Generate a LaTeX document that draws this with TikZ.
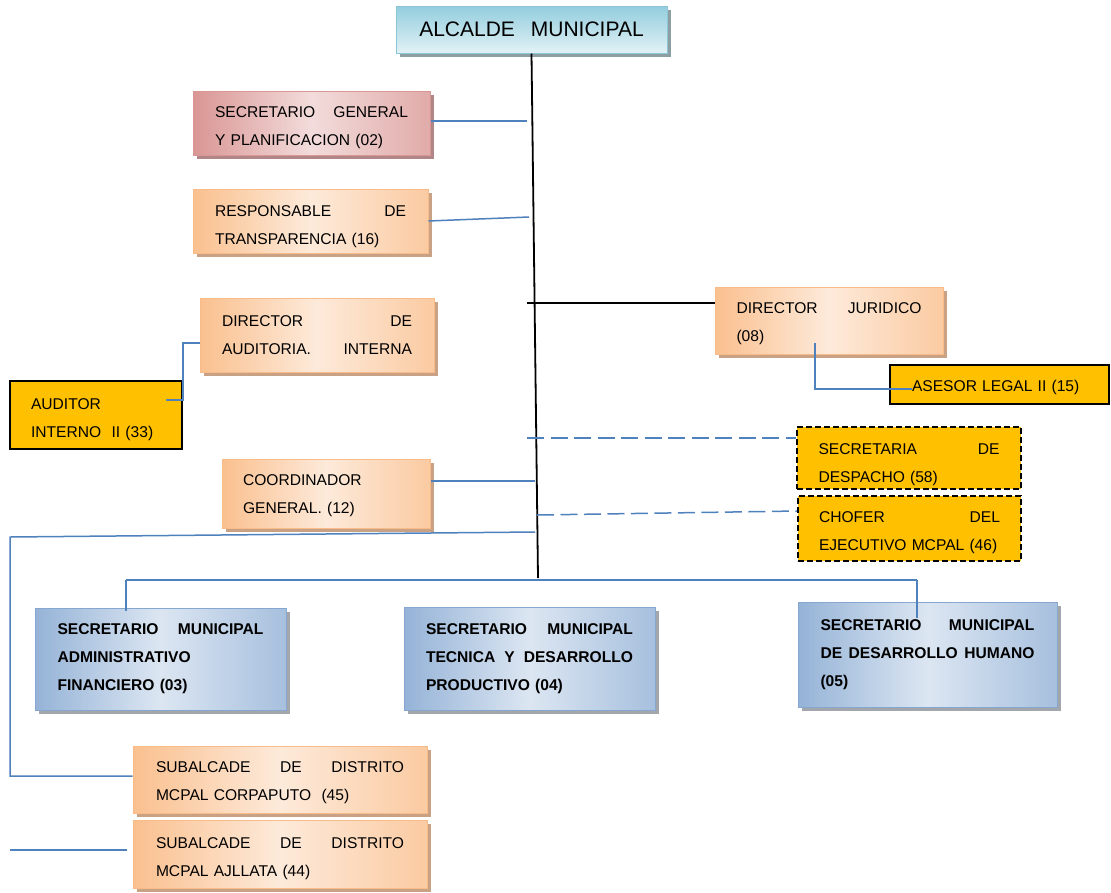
\documentclass[tikz,border=0pt]{standalone}
\usepackage{fontspec}
\setmainfont{Liberation Sans}
\usetikzlibrary{shadows}

\definecolor{bluedark}{HTML}{95B3D7}
\definecolor{bluepale}{HTML}{DCE6F2}
\definecolor{blueedge}{HTML}{86A8D0}
\definecolor{blueshadow}{HTML}{A3A6AB}
\definecolor{orgdark}{HTML}{FAC08F}
\definecolor{orgpale}{HTML}{FDEADA}
\definecolor{orgedge}{HTML}{F9BB88}
\definecolor{orgshadow}{HTML}{C9A285}
\definecolor{reddark}{HTML}{D99694}
\definecolor{redpale}{HTML}{F2DCDB}
\definecolor{redshadow}{HTML}{B08786}
\definecolor{cyandark}{HTML}{93CDDD}
\definecolor{cyanpale}{HTML}{E2F2F6}
\definecolor{cyanedge}{HTML}{8CC6D8}
\definecolor{cyanshadow}{HTML}{8E9FA4}
\definecolor{gold}{HTML}{FFC000}
\definecolor{linkblue}{HTML}{4F81BD}

\tikzset{
  unit/.style={rectangle, inner sep=0pt, align=left, text=black,
    font=\fontsize{15.6pt}{28pt}\selectfont},
  % a taller first line pushes the centred text block down
  lowered/.style={execute at begin node={\rule{0pt}{#1}}},
  shadowed/.style={drop shadow={shadow xshift=4pt, shadow yshift=-4pt,
    opacity=1, fill=#1}},
  cyanbox/.style={unit, draw=cyanedge, line width=1pt,
    top color=cyandark, bottom color=cyanpale, shadowed=cyanshadow,
    font=\fontsize{21pt}{24pt}\selectfont},
  redbox/.style={unit, draw=reddark, line width=1pt,
    left color=reddark, right color=reddark!70!redpale, middle color=redpale,
    shadowed=redshadow},
  orangebox/.style={unit, draw=orgedge, line width=1pt,
    left color=orgdark, right color=orgdark!75!orgpale, middle color=orgpale,
    shadowed=orgshadow},
  bluebox/.style={unit, draw=blueedge, line width=1pt,
    left color=bluedark, right color=bluedark!75!bluepale, middle color=bluepale,
    shadowed=blueshadow, font=\fontsize{15.6pt}{28pt}\selectfont\bfseries},
  goldbox/.style={unit, fill=gold, draw=black, line width=1.6pt},
  dashbox/.style={unit, fill=gold, draw=black, line width=1.6pt,
    dash pattern=on 6pt off 3pt},
  link/.style={draw=linkblue, line width=1.5pt},
  dashlink/.style={link, dash pattern=on 17pt off 6.5pt},
  trunk/.style={draw=black, line width=1.8pt}
}

\begin{document}
\begin{tikzpicture}[x=1pt, y=-1pt]
\useasboundingbox[fill=white] (0,0) rectangle (1111,892);

% head of the municipality
\node[cyanbox, minimum width=271pt, minimum height=47pt] (alcalde) at (531.5,29.5)
  {ALCALDE\hspace{16pt}MUNICIPAL};

% staff units on the left of the trunk
\node[redbox, lowered=19.4pt, minimum width=237pt, minimum height=64pt, text width=193pt] (secgen) at (311.5,123)
  {SECRETARIO\hfill GENERAL\\Y PLANIFICACION (02)};
\node[orangebox, lowered=21.4pt, minimum width=235pt, minimum height=64pt, text width=191pt] (resp) at (310.5,221)
  {RESPONSABLE\hfill DE\\TRANSPARENCIA (16)};
\node[orangebox, minimum width=234pt, minimum height=74pt, text width=190pt] (diraud) at (317,335)
  {DIRECTOR\hfill DE\\AUDITORIA.\hfill INTERNA};
\node[goldbox, lowered=19.4pt, minimum width=172pt, minimum height=68pt, text width=130pt] (auditor) at (96,415)
  {AUDITOR\\INTERNO\ \ II (33)};
\node[orangebox, lowered=15.4pt, minimum width=208pt, minimum height=69pt, text width=166pt] (coord) at (326,493.5)
  {COORDINADOR\\GENERAL. (12)};

% units on the right of the trunk
\node[orangebox, lowered=17.4pt, minimum width=228pt, minimum height=67pt, text width=185pt] (dirjur) at (829,320.5)
  {DIRECTOR\hfill JURIDICO\\(08)};
\node[goldbox, lowered=17.4pt, minimum width=219pt, minimum height=39pt, text width=175pt] (asesor) at (999.5,384.5)
  {ASESOR LEGAL II (15)};
\node[dashbox, lowered=23.4pt, minimum width=224pt, minimum height=62pt, text width=181pt] (secdesp) at (909,458)
  {SECRETARIA\hfill DE\\DESPACHO (58)};
\node[dashbox, lowered=19.4pt, minimum width=223pt, minimum height=65pt, text width=181pt] (chofer) at (909.5,528.5)
  {CHOFER\hfill DEL\\EJECUTIVO MCPAL (46)};

% municipal secretariats
\node[bluebox, minimum width=251pt, minimum height=102pt, text width=206pt] (smaf) at (160.5,659)
  {SECRETARIO\hfill MUNICIPAL\\ADMINISTRATIVO\\FINANCIERO (03)};
\node[bluebox, minimum width=251pt, minimum height=103pt, text width=207pt] (smtdp) at (529.5,658.5)
  {SECRETARIO\hfill MUNICIPAL\\TECNICA\hfill Y\hfill DESARROLLO\\PRODUCTIVO (04)};
\node[bluebox, minimum width=259pt, minimum height=105pt, text width=214pt] (smdh) at (927.5,654.5)
  {SECRETARIO\hfill MUNICIPAL\\DE\hfill DESARROLLO\hfill HUMANO\\(05)};

% district sub-mayors
\node[orangebox, lowered=17.4pt, minimum width=294pt, minimum height=67pt, text width=248pt] (sub45) at (280,779.5)
  {SUBALCADE\hfill DE\hfill DISTRITO\\MCPAL CORPAPUTO\ \ (45)};
\node[orangebox, lowered=19.4pt, minimum width=294pt, minimum height=68pt, text width=248pt] (sub44) at (280,854)
  {SUBALCADE\hfill DE\hfill DISTRITO\\MCPAL AJLLATA (44)};

% junction points on the trunk and free line ends
\coordinate (tbot) at (538,578);
\coordinate (j1) at (527,121);
\coordinate (j2) at (529,217);
\coordinate (j3) at (527,303);
\coordinate (j4) at (527,438);
\coordinate (j5) at (537,515);
\coordinate (j6) at (535,481);
\coordinate (j7) at (535,532);
\coordinate (a1) at (166,400);
\coordinate (a2) at (183,400);
\coordinate (a3) at (183,343);
\coordinate (d1) at (815,343);
\coordinate (d2) at (815,389);
\coordinate (d3) at (912,389);
\coordinate (l1) at (10,537);
\coordinate (l2) at (10,776);
\coordinate (l3) at (10,850);
\coordinate (l4) at (127,850);
\coordinate (b1) at (126,580);
\coordinate (b2) at (917,580);
\coordinate (b3) at (126,611);
\coordinate (b4) at (917,618);

% trunk
\draw[trunk] (alcalde.south) -- (tbot);

% branches
\draw[link] (secgen.east |- j1) -- (j1);
\draw[link] (resp.east) -- (j2);
\draw[trunk, line width=1.4pt] (j3) -- (j3 -| dirjur.west);
\draw[link] (a1) -- (a2) -- (a3) -- (a3 -| diraud.west);
\draw[link] (d1) -- (d2) -- (d3);
\draw[dashlink] (j4) -- (j4 -| secdesp.west);
\draw[dashlink] (j5) -- (chofer.west |- 0,511);
\draw[link] (coord.east |- j6) -- (j6);
\draw[link] (j7) -- (l1) -- (l2) -- (l2 -| sub45.west);
\draw[link] (l3) -- (l4);
\draw[link] (b1) -- (b2);
\draw[link] (b1) -- (b3);
\draw[link] (b2) -- (b4);
\end{tikzpicture}
\end{document}
